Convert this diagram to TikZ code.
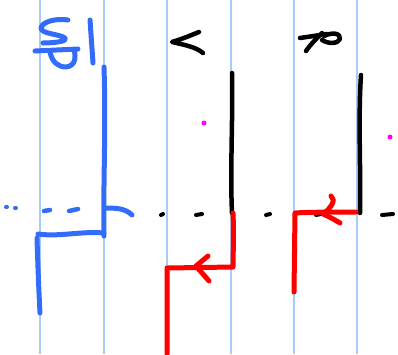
\documentclass[tikz,border=0pt]{standalone}
\definecolor{penblue}{RGB}{52,108,250}
\definecolor{penred}{RGB}{255,0,0}
\definecolor{ruleblue}{RGB}{168,204,248}
\definecolor{dotmag}{RGB}{255,0,255}
\tikzset{
  ruleline/.style={draw=ruleblue,line width=1.4pt},
  bluepen/.style={draw=penblue,line width=5pt,line cap=round,line join=round},
  blackpen/.style={draw=black,line width=4.5pt,line cap=round,line join=round},
  redpen/.style={draw=penred,line width=5pt,line cap=round,line join=round},
}
\begin{document}
\begin{tikzpicture}[x=1pt,y=-1pt]
\useasboundingbox (0,0) rectangle (398,354);
\fill[white] (0,0) rectangle (398,354);
% ruled lines
\foreach \x in {40,104,167,231,294,357}
  \draw[ruleline] (\x,0) -- (\x,354);
% blue drawing
\draw[bluepen] (104,67) .. controls (106,130) and (103,190) .. (104,236);
\draw[bluepen] (104,233) .. controls (80,231) and (60,237) .. (38,234);
\draw[bluepen] (37,238) .. controls (38,270) and (39,295) .. (40,313);
\draw[bluepen] (105,208) .. controls (115,208) and (125,208) .. (132,215);
\draw[bluepen,line width=4pt] (6,207) -- (7,207) (15,208) -- (16,208);
\draw[bluepen,line width=4.5pt] (44,211) -- (50,210) (69,211) -- (78,209);
% blue label
\draw[bluepen] (68,20) .. controls (55,18) and (42,22) .. (41,28)
  .. controls (41,34) and (60,34) .. (65,38) .. controls (68,42) and (50,43) .. (43,43);
\draw[bluepen] (35,51) -- (78,49);
\draw[bluepen] (50,52) .. controls (52,62) and (58,67) .. (66,67)
  .. controls (76,66) and (76,56) .. (74,50);
\draw[bluepen] (90,20) -- (93,63);
% black drawing
\draw[blackpen] (232,73) .. controls (233,120) and (230,170) .. (232,213);
\draw[blackpen] (361,75) .. controls (358,120) and (361,170) .. (360,213);
\foreach \a/\b in {161/163,196/202,266/270,316/321,382/393}
  \draw[blackpen,line width=4pt] (\a,215) -- (\b,214);
% black labels
\draw[blackpen] (199,32) .. controls (194,34) and (185,38) .. (172,42)
  .. controls (185,45) and (196,47) .. (203,53);
\draw[blackpen] (300,38) -- (327,34);
\draw[blackpen] (322,33) .. controls (315,40) and (310,45) .. (306,51);
\draw[blackpen] (324,36) .. controls (332,32) and (341,33) .. (340,39)
  .. controls (338,44) and (328,44) .. (322,40);
% red drawing
\draw[redpen] (233,213) .. controls (234,235) and (233,255) .. (233,267)
  -- (167,268) -- (167,354);
\draw[redpen] (208,256) -- (196,266) -- (209,281);
\draw[redpen] (356,212) .. controls (340,212) and (310,212) .. (295,213)
  -- (294,292);
\draw[redpen] (331,196) .. controls (336,200) and (332,207) .. (323,214)
  .. controls (330,217) and (335,220) .. (340,223);
% magenta dots
\fill[dotmag] (204,123) circle (2.5);
\fill[dotmag] (390,137) circle (2.5);
\end{tikzpicture}
\end{document}
